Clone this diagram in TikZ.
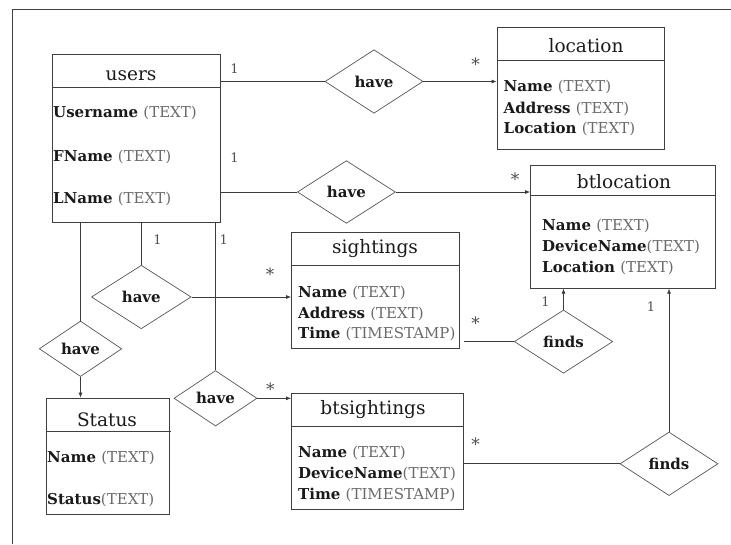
\documentclass[tikz,border=0pt]{standalone}
\usepackage{fontspec}
\setmainfont{DejaVu Serif}
\usetikzlibrary{shapes.geometric,arrows.meta}

\definecolor{boxline}{HTML}{404040}
\definecolor{dialine}{HTML}{555555}
\definecolor{typegray}{HTML}{6A6A6A}
\definecolor{cardgray}{HTML}{505050}
\definecolor{inkblack}{HTML}{1A1A1A}

\newcommand\ttlfont{\fontsize{18.5}{20}\selectfont}
\newcommand\attfont{\fontsize{15}{17}\selectfont}
\newcommand\relfont{\fontsize{15}{17}\selectfont\bfseries}
\newcommand\cardfont{\fontsize{13}{15}\selectfont}
\newcommand\starfont{\fontsize{17}{19}\selectfont}
\newcommand\ty[1]{{\mdseries\color{typegray}#1}}

\tikzset{
  x=1pt, y=-1pt,
  ebox/.style={draw=boxline, line width=0.8pt, rectangle, inner sep=0pt},
  hdr/.style={draw=boxline, line width=0.8pt},
  etitle/.style={inner sep=0pt, text=inkblack, font=\ttlfont},
  attr/.style={inner sep=0pt, anchor=west, text=inkblack, font=\attfont\bfseries},
  rel/.style={draw=dialine, line width=0.7pt, shape=diamond, inner sep=0pt,
    text=inkblack, font=\relfont},
  card/.style={inner sep=0pt, text=cardgray, font=\cardfont},
  many/.style={inner sep=0pt, text=cardgray, font=\starfont},
  conn/.style={draw=inkblack!85, line width=0.7pt},
  arr/.style={conn, -{Latex[length=5pt,width=4pt]}},
}

\begin{document}
\begin{tikzpicture}
\useasboundingbox (0,0) rectangle (731,544);

% page frame (left and top edges)
\coordinate (fbl) at (12,544);
\coordinate (ftl) at (12,9);
\coordinate (ftr) at (731,9);
\draw[draw=boxline, line width=0.8pt] (fbl) -- (ftl) -- (ftr);

% ---------- entities ----------
% users
\node[ebox, minimum width=167.5pt, minimum height=167.5pt] (users) at (136.25,138.25) {};
\draw[hdr] (users.west |- 0,87) -- (users.east |- 0,87);
\node[etitle] (usersT) at (131,76) {users};
\node[attr] (usersA1) at (53,113) {Username \ty{(TEXT)}};
\node[attr] (usersA2) at (53,157) {FName \ty{(TEXT)}};
\node[attr] (usersA3) at (53,198.5) {LName \ty{(TEXT)}};

% location
\node[ebox, minimum width=167pt, minimum height=122pt] (location) at (580.5,88) {};
\draw[hdr] (location.west |- 0,60) -- (location.east |- 0,60);
\node[etitle] (locationT) at (586,46) {location};
\node[attr] (locationA1) at (503.5,87) {Name \ty{(TEXT)}};
\node[attr] (locationA2) at (503.5,108.5) {Address \ty{(TEXT)}};
\node[attr] (locationA3) at (503.5,129) {Location \ty{(TEXT)}};

% btlocation
\node[ebox, minimum width=184.5pt, minimum height=123pt] (btlocation) at (622.75,226.75) {};
\draw[hdr] (btlocation.west |- 0,195.5) -- (btlocation.east |- 0,195.5);
\node[etitle] (btlocationT) at (624,182) {btlocation};
\node[attr] (btlocationA1) at (542,225.5) {Name \ty{(TEXT)}};
\node[attr] (btlocationA2) at (542,247) {DeviceName\ty{(TEXT)}};
\node[attr] (btlocationA3) at (542,268) {Location \ty{(TEXT)}};

% sightings
\node[ebox, minimum width=167.5pt, minimum height=116pt] (sightings) at (375.25,290) {};
\draw[hdr] (sightings.west |- 0,265.5) -- (sightings.east |- 0,265.5);
\node[etitle] (sightingsT) at (375,249) {sightings};
\node[attr] (sightingsA1) at (298,292.5) {Name \ty{(TEXT)}};
\node[attr] (sightingsA2) at (298,314) {Address \ty{(TEXT)}};
\node[attr] (sightingsA3) at (298,334) {Time \ty{(TIMESTAMP)}};

% btsightings
\node[ebox, minimum width=171.5pt, minimum height=116pt] (btsightings) at (377.25,451) {};
\draw[hdr] (btsightings.west |- 0,426) -- (btsightings.east |- 0,426);
\node[etitle] (btsightingsT) at (373,409.5) {btsightings};
\node[attr] (btsightingsA1) at (298,453) {Name \ty{(TEXT)}};
\node[attr] (btsightingsA2) at (298,474) {DeviceName\ty{(TEXT)}};
\node[attr] (btsightingsA3) at (298,494.5) {Time \ty{(TIMESTAMP)}};

% Status
\node[ebox, minimum width=122.5pt, minimum height=116pt] (status) at (107.75,456) {};
\draw[hdr] (status.west |- 0,431) -- (170.5,431);
\node[etitle] (statusT) at (107,420) {Status};
\node[attr] (statusA1) at (47,457.5) {Name \ty{(TEXT)}};
\node[attr] (statusA2) at (47,499.5) {Status\ty{(TEXT)}};

% ---------- relationships ----------
\node[rel, minimum width=98pt, minimum height=63.5pt] (r1) at (374,81.5) {have};
\node[rel, minimum width=98pt, minimum height=62.7pt] (r2) at (346.4,192) {have};
\node[rel, minimum width=99.7pt, minimum height=63.5pt] (r3) at (141.3,297) {have};
\node[rel, minimum width=82.5pt, minimum height=55.5pt] (r4) at (80.5,348.8) {have};
\node[rel, minimum width=83pt, minimum height=55.5pt] (r5) at (215.5,398.3) {have};
\node[rel, minimum width=98.4pt, minimum height=63.2pt] (f1) at (563.5,341.6) {finds};
\node[rel, minimum width=98pt, minimum height=63.5pt] (f2) at (669,463.8) {finds};

% ---------- connectors ----------
\draw[conn] (users.east |- r1) -- (r1.west);
\draw[arr]  (r1.east) -- (location.west |- r1);

\draw[conn] (users.east |- r2) -- (r2.west);
\draw[arr]  (r2.east) -- (btlocation.west |- r2);

\draw[conn] (users.south -| r3) -- (r3.north);
\draw[arr]  (r3.east) -- (sightings.west |- r3);

\draw[conn] (users.south -| r4) -- (r4.north);
\draw[arr]  (r4.south) -- (status.north -| r4);

\draw[conn] (users.south -| r5) -- (r5.north);
\draw[arr]  (r5.east) -- (btsightings.west |- r5);

\draw[conn, shorten <=5pt] (sightings.east |- f1) -- (f1.west);
\draw[arr]  (f1.north) -- (btlocation.south -| f1);

\draw[conn] (btsightings.east |- f2) -- (f2.west);
\draw[arr]  (f2.north) -- (btlocation.south -| f2);

% ---------- cardinalities ----------
\node[card] (c1) at (234.5,69) {1};
\node[card] (c2) at (234.5,158) {1};
\node[card] (c3) at (157.6,240) {1};
\node[card] (c4) at (223.8,240) {1};
\node[card] (c5) at (545.5,302) {1};
\node[card] (c6) at (651,307) {1};
\node[many] (m1) at (475.5,64) {*};
\node[many] (m2) at (515,179.5) {*};
\node[many] (m3) at (270,274) {*};
\node[many] (m4) at (270.4,389.5) {*};
\node[many] (m5) at (475.5,323) {*};
\node[many] (m6) at (475.5,444.5) {*};
\end{tikzpicture}
\end{document}
